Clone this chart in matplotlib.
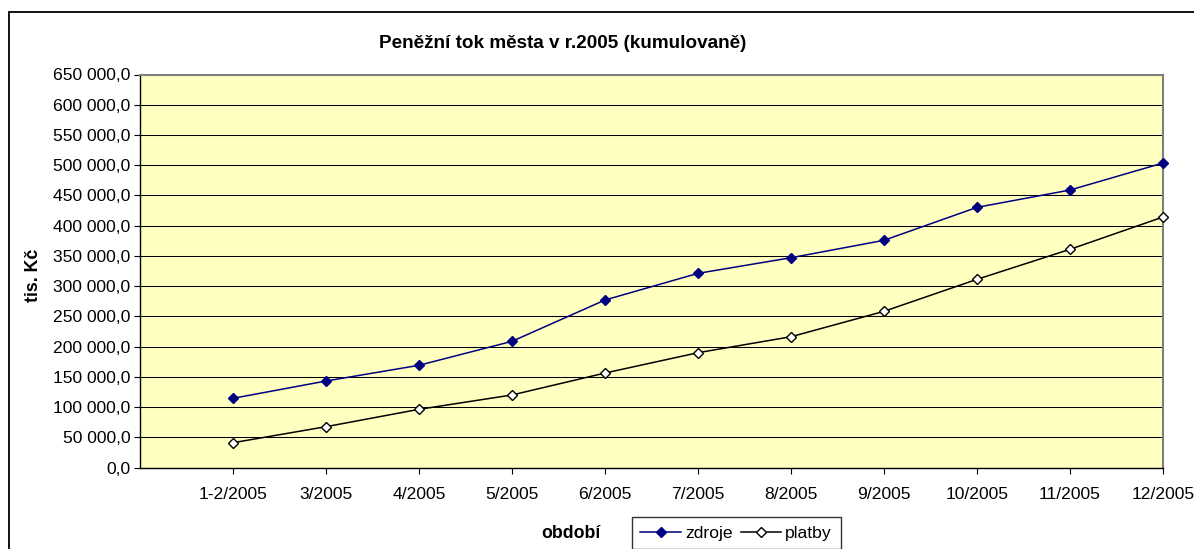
import matplotlib
matplotlib.use("Agg")
import matplotlib.pyplot as plt
from matplotlib.ticker import FuncFormatter, MultipleLocator
from matplotlib.patches import Rectangle
import numpy as np

plt.rcParams['font.family'] = ['Liberation Sans', 'DejaVu Sans']

categories = ["1-2/2005", "3/2005", "4/2005", "5/2005", "6/2005", "7/2005",
              "8/2005", "9/2005", "10/2005", "11/2005", "12/2005"]
zdroje = [114700, 143300, 169300, 208900, 277200, 321300, 347100, 375900,
          430400, 459000, 503700]
platby = [41300, 67800, 96500, 120200, 156500, 190100, 216500, 258500,
          311400, 361000, 414400]

W, H = 1194, 549
fig = plt.figure(figsize=(W / 100, H / 100), dpi=100)
fig.patch.set_facecolor('white')

# outer chart border
fig.patches.append(Rectangle((9.3 / W, -0.1), 1.2, 1 - 12.5 / H + 0.1,
                             transform=fig.transFigure, fill=False,
                             edgecolor='black', lw=1.3))

left, right, top, bottom = 140, 1163, 74.5, 467.7
ax = fig.add_axes([left / W, 1 - bottom / H, (right - left) / W, (bottom - top) / H])
ax.set_facecolor('#FFFFC0')

x = np.arange(len(categories))
ax.plot(x, zdroje, color='#000080', lw=1.1, marker='D', markersize=5.6,
        markerfacecolor='#000080', markeredgecolor='#000080', clip_on=False,
        zorder=3, label='zdroje')
ax.plot(x, platby, color='black', lw=1.1, marker='D', markersize=5.6,
        markerfacecolor='white', markeredgecolor='black', markeredgewidth=1.0,
        clip_on=False, zorder=3, label='platby')

ax.set_xlim(-1, len(categories) - 1)
ax.set_ylim(0, 650000)
ax.yaxis.set_major_locator(MultipleLocator(50000))
ax.yaxis.set_major_formatter(FuncFormatter(
    lambda v, p: f"{v:,.1f}".replace(",", " ").replace(".", ",")))
ax.set_xticks(x)
ax.set_xticklabels(categories)
ax.grid(axis='y', color='black', lw=0.75)
ax.set_axisbelow(True)

for s in ['left', 'bottom']:
    ax.spines[s].set_color('black')
    ax.spines[s].set_linewidth(1.0)
for s in ['top', 'right']:
    ax.spines[s].set_color('#808080')
    ax.spines[s].set_linewidth(1.5)

ax.tick_params(axis='both', direction='out', length=4, width=0.8,
               labelsize=12.6, colors='black')
ax.tick_params(axis='x', pad=10)
ax.tick_params(axis='y', pad=3)

fig.text(563 / W, 1 - 43 / H, "Peněžní tok města v r.2005 (kumulovaně)",
         ha='center', va='center', fontsize=13.6, fontweight='bold')
fig.text(33 / W, 1 - 275 / H, "tis. Kč", rotation=90, ha='center',
         va='center', fontsize=12.8, fontweight='bold')
fig.text(571 / W, 1 - 533 / H, "období", ha='center', va='center',
         fontsize=12.8, fontweight='bold')

leg = fig.legend(loc='upper left', bbox_to_anchor=(631.7 / W, 1 - 516.7 / H),
                 ncol=2, fontsize=12.6, frameon=True, fancybox=False,
                 edgecolor='black', handlelength=2.3, handletextpad=0.25,
                 columnspacing=0.45, borderpad=0.5, borderaxespad=0)
leg.get_frame().set_linewidth(1.0)

fig.savefig("out.png", dpi=100)
